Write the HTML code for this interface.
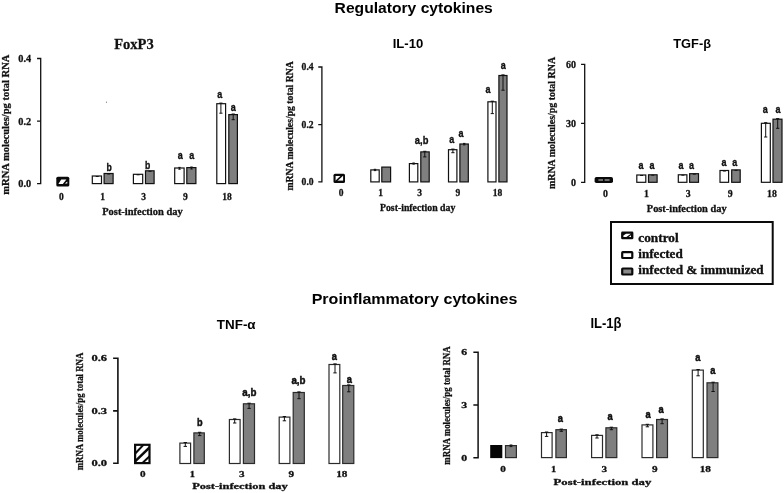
<!DOCTYPE html>
<html><head><meta charset="utf-8"><title>Cytokines</title>
<style>
html,body{margin:0;padding:0;background:#fff;}
body{width:784px;height:493px;overflow:hidden;font-family:"Liberation Sans",sans-serif;}
svg{display:block;will-change:transform;}
</style></head><body>
<svg width="784" height="493" viewBox="0 0 784 493">
<rect width="784" height="493" fill="#fff"/>
<text x="334.6" y="12.9" font-family="'Liberation Sans', sans-serif" font-size="15.2" font-weight="bold" text-anchor="start" fill="#000" textLength="158.2" lengthAdjust="spacingAndGlyphs">Regulatory cytokines</text>
<text x="311.7" y="303.5" font-family="'Liberation Sans', sans-serif" font-size="15.2" font-weight="bold" text-anchor="start" fill="#000" textLength="205.7" lengthAdjust="spacingAndGlyphs">Proinflammatory cytokines</text>
<text x="114.2" y="49.0" font-family="'Liberation Serif', serif" font-size="15" font-weight="bold" text-anchor="start" fill="#111" textLength="39.6" lengthAdjust="spacingAndGlyphs" stroke="#111" stroke-width="0.28">FoxP3</text>
<path d="M40.7 58.5V183.6M37.7 58.5H40.7M37.7 121.2H40.7M37.7 183.6H40.7" stroke="#111" stroke-width="1.3" fill="none" stroke-linecap="square"/>
<text x="31.2" y="61.8" font-family="'Liberation Serif', serif" font-size="10.3" font-weight="bold" text-anchor="end" fill="#111" stroke="#111" stroke-width="0.28">0.4</text>
<text x="31.2" y="124.5" font-family="'Liberation Serif', serif" font-size="10.3" font-weight="bold" text-anchor="end" fill="#111" stroke="#111" stroke-width="0.28">0.2</text>
<text x="31.2" y="186.9" font-family="'Liberation Serif', serif" font-size="10.3" font-weight="bold" text-anchor="end" fill="#111" stroke="#111" stroke-width="0.28">0.0</text>
<text transform="translate(9.3,194.7) rotate(-90)" x="0" y="0" font-family="'Liberation Serif', serif" font-size="10.8" font-weight="bold" fill="#111" stroke="#111" stroke-width="0.28" textLength="140.1" lengthAdjust="spacingAndGlyphs">mRNA molecules/pg total RNA</text>
<rect x="56.3" y="176.7" width="13" height="9.9" rx="1.6" fill="#0a0a0a"/>
<path d="M58.4 184.0L61.2 179.5H66.4L62.8 184.0ZM64.9 183.6L67.3 181.4V183.6Z" fill="#fff"/>
<rect x="92.30" y="176.00" width="9.20" height="7.60" fill="#fff" stroke="#111" stroke-width="1.2"/>
<rect x="104.10" y="173.50" width="9.00" height="10.10" fill="#7f7f7f" stroke="#111" stroke-width="1.2"/>
<rect x="133.40" y="174.30" width="9.30" height="9.30" fill="#fff" stroke="#111" stroke-width="1.2"/>
<rect x="145.50" y="170.80" width="8.60" height="12.80" fill="#7f7f7f" stroke="#111" stroke-width="1.2"/>
<rect x="174.70" y="168.00" width="9.40" height="15.60" fill="#fff" stroke="#111" stroke-width="1.2"/>
<rect x="186.80" y="167.60" width="9.10" height="16.00" fill="#7f7f7f" stroke="#111" stroke-width="1.2"/>
<rect x="216.80" y="103.70" width="8.80" height="79.90" fill="#fff" stroke="#111" stroke-width="1.2"/>
<rect x="228.80" y="114.60" width="8.60" height="69.00" fill="#7f7f7f" stroke="#111" stroke-width="1.2"/>
<path d="M220.9 103.1V113.2M219.3 103.1H222.5M219.3 113.2H222.5" stroke="#111" stroke-width="1.0" fill="none"/>
<path d="M233.2 114.0V119.7M231.6 114.0H234.79999999999998M231.6 119.7H234.79999999999998" stroke="#111" stroke-width="1.0" fill="none"/>
<path d="M179.5 167.4V169.2M178.3 167.4H180.7M178.3 169.2H180.7" stroke="#111" stroke-width="1.0" fill="none"/>
<path d="M191.5 167.0V169.0M190.3 167.0H192.7M190.3 169.0H192.7" stroke="#111" stroke-width="1.0" fill="none"/>
<path d="M95.7 176.5H98.7" stroke="#111" stroke-width="1.0" fill="none"/>
<path d="M107.2 174.0H110.2" stroke="#111" stroke-width="1.0" fill="none"/>
<path d="M136.6 174.8H139.6" stroke="#111" stroke-width="1.0" fill="none"/>
<path d="M148.5 171.3H151.5" stroke="#111" stroke-width="1.0" fill="none"/>
<text x="109.1" y="171.0" font-family="'Liberation Sans', sans-serif" font-size="10.6" font-weight="bold" text-anchor="middle" fill="#111" stroke="#111" stroke-width="0.35" textLength="5.3" lengthAdjust="spacingAndGlyphs">b</text>
<text x="147.6" y="168.8" font-family="'Liberation Sans', sans-serif" font-size="10.6" font-weight="bold" text-anchor="middle" fill="#111" stroke="#111" stroke-width="0.35" textLength="5.3" lengthAdjust="spacingAndGlyphs">b</text>
<text x="180.3" y="159.4" font-family="'Liberation Sans', sans-serif" font-size="10.9" font-weight="bold" text-anchor="middle" fill="#111" stroke="#111" stroke-width="0.35" textLength="5.0" lengthAdjust="spacingAndGlyphs">a</text>
<text x="191.8" y="159.4" font-family="'Liberation Sans', sans-serif" font-size="10.9" font-weight="bold" text-anchor="middle" fill="#111" stroke="#111" stroke-width="0.35" textLength="5.0" lengthAdjust="spacingAndGlyphs">a</text>
<text x="219.7" y="98.1" font-family="'Liberation Sans', sans-serif" font-size="10.9" font-weight="bold" text-anchor="middle" fill="#111" stroke="#111" stroke-width="0.35" textLength="5.0" lengthAdjust="spacingAndGlyphs">a</text>
<text x="233.2" y="111.0" font-family="'Liberation Sans', sans-serif" font-size="10.9" font-weight="bold" text-anchor="middle" fill="#111" stroke="#111" stroke-width="0.35" textLength="5.0" lengthAdjust="spacingAndGlyphs">a</text>
<text x="61.3" y="199.6" font-family="'Liberation Serif', serif" font-size="9.5" font-weight="bold" text-anchor="middle" fill="#111" stroke="#111" stroke-width="0.28">0</text>
<text x="102.5" y="199.6" font-family="'Liberation Serif', serif" font-size="9.5" font-weight="bold" text-anchor="middle" fill="#111" stroke="#111" stroke-width="0.28">1</text>
<text x="143.6" y="199.6" font-family="'Liberation Serif', serif" font-size="9.5" font-weight="bold" text-anchor="middle" fill="#111" stroke="#111" stroke-width="0.28">3</text>
<text x="185.3" y="199.6" font-family="'Liberation Serif', serif" font-size="9.5" font-weight="bold" text-anchor="middle" fill="#111" stroke="#111" stroke-width="0.28">9</text>
<text x="227.0" y="199.6" font-family="'Liberation Serif', serif" font-size="9.5" font-weight="bold" text-anchor="middle" fill="#111" stroke="#111" stroke-width="0.28">18</text>
<text x="102.2" y="214.7" font-family="'Liberation Serif', serif" font-size="10.3" font-weight="bold" text-anchor="start" fill="#111" textLength="80.5" lengthAdjust="spacingAndGlyphs" stroke="#111" stroke-width="0.28">Post-infection day</text>
<circle cx="106.5" cy="102.2" r="0.6" fill="#777"/>
<text x="392.7" y="47.8" font-family="'Liberation Sans', sans-serif" font-size="13.4" font-weight="bold" text-anchor="start" fill="#000" textLength="30.6" lengthAdjust="spacingAndGlyphs">IL-10</text>
<path d="M321.9 67.0V181.9M318.9 67.0H321.9M318.9 124.6H321.9M318.9 181.9H321.9" stroke="#111" stroke-width="1.3" fill="none" stroke-linecap="square"/>
<text x="313.6" y="70.2" font-family="'Liberation Serif', serif" font-size="9.6" font-weight="bold" text-anchor="end" fill="#111" stroke="#111" stroke-width="0.28">0.4</text>
<text x="313.6" y="127.8" font-family="'Liberation Serif', serif" font-size="9.6" font-weight="bold" text-anchor="end" fill="#111" stroke="#111" stroke-width="0.28">0.2</text>
<text x="313.6" y="185.0" font-family="'Liberation Serif', serif" font-size="9.6" font-weight="bold" text-anchor="end" fill="#111" stroke="#111" stroke-width="0.28">0.0</text>
<text transform="translate(293.0,190.6) rotate(-90)" x="0" y="0" font-family="'Liberation Serif', serif" font-size="10.0" font-weight="bold" fill="#111" stroke="#111" stroke-width="0.28" textLength="129.3" lengthAdjust="spacingAndGlyphs">mRNA molecules/pg total RNA</text>
<rect x="333.5" y="173.7" width="11.5" height="9.3" rx="1.5" fill="#0a0a0a"/>
<rect x="335.6" y="176.0" width="7.5" height="4.6" fill="#fff"/>
<path d="M336.2 181.0L342.0 175.6" stroke="#0a0a0a" stroke-width="1.7"/>
<rect x="370.80" y="169.90" width="8.40" height="12.00" fill="#fff" stroke="#111" stroke-width="1.2"/>
<rect x="381.80" y="167.10" width="8.80" height="14.80" fill="#7f7f7f" stroke="#111" stroke-width="1.2"/>
<rect x="409.40" y="163.60" width="8.40" height="18.30" fill="#fff" stroke="#111" stroke-width="1.2"/>
<rect x="420.80" y="151.90" width="8.40" height="30.00" fill="#7f7f7f" stroke="#111" stroke-width="1.2"/>
<rect x="448.50" y="149.70" width="8.40" height="32.20" fill="#fff" stroke="#111" stroke-width="1.2"/>
<rect x="459.90" y="144.00" width="8.40" height="37.90" fill="#7f7f7f" stroke="#111" stroke-width="1.2"/>
<rect x="487.90" y="101.80" width="8.10" height="80.10" fill="#fff" stroke="#111" stroke-width="1.2"/>
<rect x="498.90" y="75.50" width="8.10" height="106.40" fill="#7f7f7f" stroke="#111" stroke-width="1.2"/>
<path d="M424.8 151.3V156.9M423.2 151.3H426.40000000000003M423.2 156.9H426.40000000000003" stroke="#111" stroke-width="1.0" fill="none"/>
<path d="M452.9 149.1V152.7M451.29999999999995 149.1H454.5M451.29999999999995 152.7H454.5" stroke="#111" stroke-width="1.0" fill="none"/>
<path d="M492.3 101.2V113.6M490.7 101.2H493.90000000000003M490.7 113.6H493.90000000000003" stroke="#111" stroke-width="1.0" fill="none"/>
<path d="M503.0 74.9V90.2M501.4 74.9H504.6M501.4 90.2H504.6" stroke="#111" stroke-width="1.0" fill="none"/>
<path d="M375.0 169.3V170.6M373.8 169.3H376.2M373.8 170.6H376.2" stroke="#111" stroke-width="1.0" fill="none"/>
<path d="M413.6 163.0V164.1M412.40000000000003 163.0H414.8M412.40000000000003 164.1H414.8" stroke="#111" stroke-width="1.0" fill="none"/>
<path d="M464.2 143.4V144.9M463.0 143.4H465.4M463.0 144.9H465.4" stroke="#111" stroke-width="1.0" fill="none"/>
<text x="421.6" y="143.5" font-family="'Liberation Sans', sans-serif" font-size="10.8" font-weight="bold" text-anchor="middle" fill="#111" stroke="#111" stroke-width="0.35" textLength="13.5" lengthAdjust="spacingAndGlyphs">a,b</text>
<text x="451.8" y="143.4" font-family="'Liberation Sans', sans-serif" font-size="10.9" font-weight="bold" text-anchor="middle" fill="#111" stroke="#111" stroke-width="0.35" textLength="5.0" lengthAdjust="spacingAndGlyphs">a</text>
<text x="461.0" y="137.1" font-family="'Liberation Sans', sans-serif" font-size="10.9" font-weight="bold" text-anchor="middle" fill="#111" stroke="#111" stroke-width="0.35" textLength="5.0" lengthAdjust="spacingAndGlyphs">a</text>
<text x="488.0" y="92.6" font-family="'Liberation Sans', sans-serif" font-size="10.9" font-weight="bold" text-anchor="middle" fill="#111" stroke="#111" stroke-width="0.35" textLength="5.0" lengthAdjust="spacingAndGlyphs">a</text>
<text x="503.3" y="68.6" font-family="'Liberation Sans', sans-serif" font-size="10.9" font-weight="bold" text-anchor="middle" fill="#111" stroke="#111" stroke-width="0.35" textLength="5.0" lengthAdjust="spacingAndGlyphs">a</text>
<text x="341.0" y="196.0" font-family="'Liberation Serif', serif" font-size="9.5" font-weight="bold" text-anchor="middle" fill="#111" stroke="#111" stroke-width="0.28">0</text>
<text x="380.5" y="196.0" font-family="'Liberation Serif', serif" font-size="9.5" font-weight="bold" text-anchor="middle" fill="#111" stroke="#111" stroke-width="0.28">1</text>
<text x="419.5" y="196.0" font-family="'Liberation Serif', serif" font-size="9.5" font-weight="bold" text-anchor="middle" fill="#111" stroke="#111" stroke-width="0.28">3</text>
<text x="457.9" y="196.0" font-family="'Liberation Serif', serif" font-size="9.5" font-weight="bold" text-anchor="middle" fill="#111" stroke="#111" stroke-width="0.28">9</text>
<text x="497.6" y="196.0" font-family="'Liberation Serif', serif" font-size="9.5" font-weight="bold" text-anchor="middle" fill="#111" stroke="#111" stroke-width="0.28">18</text>
<text x="380.0" y="210.5" font-family="'Liberation Serif', serif" font-size="9.4" font-weight="bold" text-anchor="start" fill="#111" textLength="75.3" lengthAdjust="spacingAndGlyphs" stroke="#111" stroke-width="0.28">Post-infection day</text>
<text x="673.3" y="47.7" font-family="'Liberation Sans', sans-serif" font-size="12.4" font-weight="bold" text-anchor="start" fill="#000" textLength="37.7" lengthAdjust="spacingAndGlyphs">TGF-β</text>
<path d="M584.7 64.4V182.3M581.7 64.4H584.7M581.7 123.4H584.7M581.7 182.3H584.7" stroke="#111" stroke-width="1.3" fill="none" stroke-linecap="square"/>
<text x="576.0" y="67.7" font-family="'Liberation Serif', serif" font-size="10.0" font-weight="bold" text-anchor="end" fill="#111" stroke="#111" stroke-width="0.28">60</text>
<text x="576.0" y="126.7" font-family="'Liberation Serif', serif" font-size="10.0" font-weight="bold" text-anchor="end" fill="#111" stroke="#111" stroke-width="0.28">30</text>
<text x="576.0" y="185.60000000000002" font-family="'Liberation Serif', serif" font-size="10.0" font-weight="bold" text-anchor="end" fill="#111" stroke="#111" stroke-width="0.28">0</text>
<text transform="translate(555.2,189.0) rotate(-90)" x="0" y="0" font-family="'Liberation Serif', serif" font-size="9.9" font-weight="bold" fill="#111" stroke="#111" stroke-width="0.28" textLength="132.1" lengthAdjust="spacingAndGlyphs">mRNA molecules/pg total RNA</text>
<rect x="594.6" y="177.0" width="18.4" height="6.0" rx="1.8" fill="#0a0a0a"/>
<path d="M598.4 180.0H603M604.6 180.0H609.6" stroke="#8c8c8c" stroke-width="1.3"/>
<rect x="636.80" y="175.00" width="9.00" height="7.30" fill="#fff" stroke="#111" stroke-width="1.2"/>
<rect x="648.50" y="174.80" width="8.60" height="7.50" fill="#7f7f7f" stroke="#111" stroke-width="1.2"/>
<rect x="678.30" y="174.80" width="8.60" height="7.50" fill="#fff" stroke="#111" stroke-width="1.2"/>
<rect x="689.60" y="173.70" width="8.90" height="8.60" fill="#7f7f7f" stroke="#111" stroke-width="1.2"/>
<rect x="720.00" y="170.50" width="8.60" height="11.80" fill="#fff" stroke="#111" stroke-width="1.2"/>
<rect x="731.70" y="169.90" width="8.50" height="12.40" fill="#7f7f7f" stroke="#111" stroke-width="1.2"/>
<rect x="761.40" y="123.30" width="8.90" height="59.00" fill="#fff" stroke="#111" stroke-width="1.2"/>
<rect x="773.00" y="119.20" width="9.00" height="63.10" fill="#7f7f7f" stroke="#111" stroke-width="1.2"/>
<path d="M765.7 122.7V137.0M764.1 122.7H767.3000000000001M764.1 137.0H767.3000000000001" stroke="#111" stroke-width="1.0" fill="none"/>
<path d="M777.7 118.6V128.3M776.1 118.6H779.3000000000001M776.1 128.3H779.3000000000001" stroke="#111" stroke-width="1.0" fill="none"/>
<path d="M640.1 175.5H643.1" stroke="#111" stroke-width="1.0" fill="none"/>
<path d="M651.3 175.2H654.3" stroke="#111" stroke-width="1.0" fill="none"/>
<path d="M681.4 175.2H684.4" stroke="#111" stroke-width="1.0" fill="none"/>
<path d="M692.8 174.2H695.8" stroke="#111" stroke-width="1.0" fill="none"/>
<path d="M722.9 171.0H725.9" stroke="#111" stroke-width="1.0" fill="none"/>
<path d="M734.5 170.4H737.5" stroke="#111" stroke-width="1.0" fill="none"/>
<text x="641.1" y="168.9" font-family="'Liberation Sans', sans-serif" font-size="10.9" font-weight="bold" text-anchor="middle" fill="#111" stroke="#111" stroke-width="0.35" textLength="5.0" lengthAdjust="spacingAndGlyphs">a</text>
<text x="651.9" y="168.9" font-family="'Liberation Sans', sans-serif" font-size="10.9" font-weight="bold" text-anchor="middle" fill="#111" stroke="#111" stroke-width="0.35" textLength="5.0" lengthAdjust="spacingAndGlyphs">a</text>
<text x="681.0" y="169.0" font-family="'Liberation Sans', sans-serif" font-size="10.9" font-weight="bold" text-anchor="middle" fill="#111" stroke="#111" stroke-width="0.35" textLength="5.0" lengthAdjust="spacingAndGlyphs">a</text>
<text x="691.6" y="169.0" font-family="'Liberation Sans', sans-serif" font-size="10.9" font-weight="bold" text-anchor="middle" fill="#111" stroke="#111" stroke-width="0.35" textLength="5.0" lengthAdjust="spacingAndGlyphs">a</text>
<text x="724.0" y="165.6" font-family="'Liberation Sans', sans-serif" font-size="10.9" font-weight="bold" text-anchor="middle" fill="#111" stroke="#111" stroke-width="0.35" textLength="5.0" lengthAdjust="spacingAndGlyphs">a</text>
<text x="734.8" y="165.6" font-family="'Liberation Sans', sans-serif" font-size="10.9" font-weight="bold" text-anchor="middle" fill="#111" stroke="#111" stroke-width="0.35" textLength="5.0" lengthAdjust="spacingAndGlyphs">a</text>
<text x="765.3" y="112.6" font-family="'Liberation Sans', sans-serif" font-size="10.9" font-weight="bold" text-anchor="middle" fill="#111" stroke="#111" stroke-width="0.35" textLength="5.0" lengthAdjust="spacingAndGlyphs">a</text>
<text x="778.0" y="112.6" font-family="'Liberation Sans', sans-serif" font-size="10.9" font-weight="bold" text-anchor="middle" fill="#111" stroke="#111" stroke-width="0.35" textLength="5.0" lengthAdjust="spacingAndGlyphs">a</text>
<text x="605.4" y="197.3" font-family="'Liberation Serif', serif" font-size="9.8" font-weight="bold" text-anchor="middle" fill="#111" stroke="#111" stroke-width="0.28">0</text>
<text x="646.4" y="197.3" font-family="'Liberation Serif', serif" font-size="9.8" font-weight="bold" text-anchor="middle" fill="#111" stroke="#111" stroke-width="0.28">1</text>
<text x="688.2" y="197.3" font-family="'Liberation Serif', serif" font-size="9.8" font-weight="bold" text-anchor="middle" fill="#111" stroke="#111" stroke-width="0.28">3</text>
<text x="730.3" y="197.3" font-family="'Liberation Serif', serif" font-size="9.8" font-weight="bold" text-anchor="middle" fill="#111" stroke="#111" stroke-width="0.28">9</text>
<text x="772.0" y="197.3" font-family="'Liberation Serif', serif" font-size="9.8" font-weight="bold" text-anchor="middle" fill="#111" stroke="#111" stroke-width="0.28">18</text>
<text x="646.8" y="211.8" font-family="'Liberation Serif', serif" font-size="10.0" font-weight="bold" text-anchor="start" fill="#111" textLength="79.8" lengthAdjust="spacingAndGlyphs" stroke="#111" stroke-width="0.28">Post-infection day</text>
<rect x="611" y="222" width="161.7" height="62" fill="#fff" stroke="#0a0a0a" stroke-width="2"/>
<rect x="621.1" y="231.6" width="12.3" height="7.7" rx="1.3" fill="#0a0a0a"/>
<path d="M623.4 237.0V235.4L626.0 233.8H630.9L626.4 237.0Z M628.6 237.0L631.0 235.2V237.0Z" fill="#fff"/>
<rect x="622.2" y="252.2" width="10.1" height="5.8" rx="0.6" fill="#fff" stroke="#0a0a0a" stroke-width="2.2"/>
<rect x="622.2" y="268.5" width="10.1" height="6.0" rx="0.6" fill="#8a8a8a" stroke="#0a0a0a" stroke-width="2.2"/>
<text x="638.3" y="241.9" font-family="'Liberation Serif', serif" font-size="13.4" font-weight="bold" text-anchor="start" fill="#111" textLength="40.4" lengthAdjust="spacingAndGlyphs" stroke="#111" stroke-width="0.35">control</text>
<text x="638.3" y="257.6" font-family="'Liberation Serif', serif" font-size="13.4" font-weight="bold" text-anchor="start" fill="#111" textLength="44.4" lengthAdjust="spacingAndGlyphs" stroke="#111" stroke-width="0.35">infected</text>
<text x="638.3" y="273.7" font-family="'Liberation Serif', serif" font-size="13.4" font-weight="bold" text-anchor="start" fill="#111" textLength="125.4" lengthAdjust="spacingAndGlyphs" stroke="#111" stroke-width="0.35">infected &amp; immunized</text>
<text x="216.8" y="329.2" font-family="'Liberation Sans', sans-serif" font-size="13.6" font-weight="bold" text-anchor="start" fill="#000" textLength="38.8" lengthAdjust="spacingAndGlyphs">TNF-α</text>
<path d="M117.9 358.2V463.2M113.9 358.2H117.9M113.9 410.9H117.9M113.9 463.2H117.9" stroke="#111" stroke-width="1.6" fill="none" stroke-linecap="square"/>
<text x="91.4" y="361.3" font-family="'Liberation Serif', serif" font-size="8.4" font-weight="bold" text-anchor="start" fill="#111" textLength="15.6" lengthAdjust="spacingAndGlyphs" stroke="#111" stroke-width="0.28">0.6</text>
<text x="91.4" y="414.0" font-family="'Liberation Serif', serif" font-size="8.4" font-weight="bold" text-anchor="start" fill="#111" textLength="15.6" lengthAdjust="spacingAndGlyphs" stroke="#111" stroke-width="0.28">0.3</text>
<text x="91.4" y="466.3" font-family="'Liberation Serif', serif" font-size="8.4" font-weight="bold" text-anchor="start" fill="#111" textLength="15.6" lengthAdjust="spacingAndGlyphs" stroke="#111" stroke-width="0.28">0.0</text>
<text transform="translate(82.6,470.3) rotate(-90)" x="0" y="0" font-family="'Liberation Serif', serif" font-size="10.6" font-weight="bold" fill="#111" stroke="#111" stroke-width="0.28" textLength="117.69999999999999" lengthAdjust="spacingAndGlyphs">mRNA molecules/pg total RNA</text>
<defs><clipPath id="c1"><rect x="135.2" y="445" width="14.2" height="18"/></clipPath></defs>
<rect x="135.1" y="444.8" width="14.4" height="18.3" fill="#fff" stroke="#0a0a0a" stroke-width="2.2"/>
<g clip-path="url(#c1)" stroke="#0a0a0a" fill="none"><path d="M134 454.8L144.7 443.5" stroke-width="2.0"/><path d="M134 462.5L151 446" stroke-width="2.4"/><path d="M141 464.3L151 455" stroke-width="2.0"/></g>
<rect x="179.90" y="443.10" width="10.70" height="20.40" fill="#fff" stroke="#2b2b2b" stroke-width="1.2"/>
<rect x="193.90" y="432.90" width="10.40" height="30.60" fill="#7f7f7f" stroke="#2b2b2b" stroke-width="1.2"/>
<rect x="229.40" y="419.50" width="10.70" height="44.00" fill="#fff" stroke="#2b2b2b" stroke-width="1.2"/>
<rect x="243.40" y="403.80" width="11.10" height="59.70" fill="#7f7f7f" stroke="#2b2b2b" stroke-width="1.2"/>
<rect x="279.20" y="417.10" width="10.70" height="46.40" fill="#fff" stroke="#2b2b2b" stroke-width="1.2"/>
<rect x="293.20" y="392.50" width="11.10" height="71.00" fill="#7f7f7f" stroke="#2b2b2b" stroke-width="1.2"/>
<rect x="329.00" y="364.50" width="10.80" height="99.00" fill="#fff" stroke="#2b2b2b" stroke-width="1.2"/>
<rect x="342.70" y="385.50" width="11.10" height="78.00" fill="#7f7f7f" stroke="#2b2b2b" stroke-width="1.2"/>
<path d="M185.3 442.5V446.4M183.60000000000002 442.5H187.0M183.60000000000002 446.4H187.0" stroke="#111" stroke-width="1.0" fill="none"/>
<path d="M199.7 432.3V435.6M198.0 432.3H201.39999999999998M198.0 435.6H201.39999999999998" stroke="#111" stroke-width="1.0" fill="none"/>
<path d="M234.7 418.9V423.0M233.0 418.9H236.39999999999998M233.0 423.0H236.39999999999998" stroke="#111" stroke-width="1.0" fill="none"/>
<path d="M249.1 403.2V408.4M247.4 403.2H250.79999999999998M247.4 408.4H250.79999999999998" stroke="#111" stroke-width="1.0" fill="none"/>
<path d="M284.4 416.5V420.8M282.7 416.5H286.09999999999997M282.7 420.8H286.09999999999997" stroke="#111" stroke-width="1.0" fill="none"/>
<path d="M299.0 391.9V398.7M297.3 391.9H300.7M297.3 398.7H300.7" stroke="#111" stroke-width="1.0" fill="none"/>
<path d="M335.0 363.9V372.9M333.3 363.9H336.7M333.3 372.9H336.7" stroke="#111" stroke-width="1.0" fill="none"/>
<path d="M348.8 384.9V391.8M347.1 384.9H350.5M347.1 391.8H350.5" stroke="#111" stroke-width="1.0" fill="none"/>
<text x="199.7" y="425.6" font-family="'Liberation Sans', sans-serif" font-size="10.0" font-weight="bold" text-anchor="middle" fill="#111" stroke="#111" stroke-width="0.45" textLength="5.6" lengthAdjust="spacingAndGlyphs">b</text>
<text x="249.3" y="396.2" font-family="'Liberation Sans', sans-serif" font-size="10.0" font-weight="bold" text-anchor="middle" fill="#111" stroke="#111" stroke-width="0.45" textLength="14.1" lengthAdjust="spacingAndGlyphs">a,b</text>
<text x="298.5" y="384.0" font-family="'Liberation Sans', sans-serif" font-size="10.0" font-weight="bold" text-anchor="middle" fill="#111" stroke="#111" stroke-width="0.45" textLength="14.1" lengthAdjust="spacingAndGlyphs">a,b</text>
<text x="334.4" y="359.8" font-family="'Liberation Sans', sans-serif" font-size="10.0" font-weight="bold" text-anchor="middle" fill="#111" stroke="#111" stroke-width="0.45" textLength="5.2" lengthAdjust="spacingAndGlyphs">a</text>
<text x="349.3" y="382.8" font-family="'Liberation Sans', sans-serif" font-size="10.0" font-weight="bold" text-anchor="middle" fill="#111" stroke="#111" stroke-width="0.45" textLength="5.2" lengthAdjust="spacingAndGlyphs">a</text>
<text x="140.0" y="476.7" font-family="'Liberation Serif', serif" font-size="8.5" font-weight="bold" text-anchor="start" fill="#111" textLength="5.6" lengthAdjust="spacingAndGlyphs" stroke="#111" stroke-width="0.28">0</text>
<text x="189.70000000000002" y="476.7" font-family="'Liberation Serif', serif" font-size="8.5" font-weight="bold" text-anchor="start" fill="#111" textLength="5.2" lengthAdjust="spacingAndGlyphs" stroke="#111" stroke-width="0.28">1</text>
<text x="239.0" y="476.7" font-family="'Liberation Serif', serif" font-size="8.5" font-weight="bold" text-anchor="start" fill="#111" textLength="5.6" lengthAdjust="spacingAndGlyphs" stroke="#111" stroke-width="0.28">3</text>
<text x="288.4" y="476.7" font-family="'Liberation Serif', serif" font-size="8.5" font-weight="bold" text-anchor="start" fill="#111" textLength="5.6" lengthAdjust="spacingAndGlyphs" stroke="#111" stroke-width="0.28">9</text>
<text x="336.2" y="476.7" font-family="'Liberation Serif', serif" font-size="8.5" font-weight="bold" text-anchor="start" fill="#111" textLength="11.2" lengthAdjust="spacingAndGlyphs" stroke="#111" stroke-width="0.28">18</text>
<text x="192.2" y="489.3" font-family="'Liberation Serif', serif" font-size="8.9" font-weight="bold" text-anchor="start" fill="#111" textLength="95.6" lengthAdjust="spacingAndGlyphs" stroke="#111" stroke-width="0.28">Post-infection day</text>
<text x="590.4" y="328.1" font-family="'Liberation Sans', sans-serif" font-size="13.8" font-weight="bold" text-anchor="start" fill="#000" textLength="31.1" lengthAdjust="spacingAndGlyphs">IL-1β</text>
<path d="M478.1 352.2V457.7M474.1 352.2H478.1M474.1 405.0H478.1M474.1 457.7H478.1" stroke="#111" stroke-width="1.5" fill="none" stroke-linecap="square"/>
<text x="461.3" y="355.1" font-family="'Liberation Serif', serif" font-size="8.6" font-weight="bold" text-anchor="start" fill="#111" textLength="5.9" lengthAdjust="spacingAndGlyphs" stroke="#111" stroke-width="0.28">6</text>
<text x="461.3" y="408.1" font-family="'Liberation Serif', serif" font-size="8.6" font-weight="bold" text-anchor="start" fill="#111" textLength="5.9" lengthAdjust="spacingAndGlyphs" stroke="#111" stroke-width="0.28">3</text>
<text x="461.3" y="460.8" font-family="'Liberation Serif', serif" font-size="8.6" font-weight="bold" text-anchor="start" fill="#111" textLength="5.9" lengthAdjust="spacingAndGlyphs" stroke="#111" stroke-width="0.28">0</text>
<text transform="translate(449.8,464.7) rotate(-90)" x="0" y="0" font-family="'Liberation Serif', serif" font-size="10.6" font-weight="bold" fill="#111" stroke="#111" stroke-width="0.28" textLength="118.39999999999998" lengthAdjust="spacingAndGlyphs">mRNA molecules/pg total RNA</text>
<rect x="490.2" y="445.0" width="12.1" height="13.1" fill="#050505"/>
<rect x="505.50" y="445.60" width="10.90" height="12.00" fill="#7f7f7f" stroke="#2b2b2b" stroke-width="1.2"/>
<rect x="541.50" y="432.60" width="10.60" height="25.00" fill="#fff" stroke="#2b2b2b" stroke-width="1.2"/>
<rect x="555.90" y="429.70" width="10.50" height="27.90" fill="#7f7f7f" stroke="#2b2b2b" stroke-width="1.2"/>
<rect x="591.60" y="435.40" width="10.90" height="22.20" fill="#fff" stroke="#2b2b2b" stroke-width="1.2"/>
<rect x="605.90" y="427.80" width="10.90" height="29.80" fill="#7f7f7f" stroke="#2b2b2b" stroke-width="1.2"/>
<rect x="642.00" y="424.90" width="10.90" height="32.70" fill="#fff" stroke="#2b2b2b" stroke-width="1.2"/>
<rect x="656.60" y="419.50" width="10.90" height="38.10" fill="#7f7f7f" stroke="#2b2b2b" stroke-width="1.2"/>
<rect x="692.30" y="370.10" width="11.00" height="87.50" fill="#fff" stroke="#2b2b2b" stroke-width="1.2"/>
<rect x="707.00" y="382.80" width="10.90" height="74.80" fill="#7f7f7f" stroke="#2b2b2b" stroke-width="1.2"/>
<path d="M511.0 445.0V446.6M509.6 445.0H512.4M509.6 446.6H512.4" stroke="#111" stroke-width="1.0" fill="none"/>
<path d="M546.6 432.0V436.4M544.9 432.0H548.3000000000001M544.9 436.4H548.3000000000001" stroke="#111" stroke-width="1.0" fill="none"/>
<path d="M561.3 429.1V431.3M559.5999999999999 429.1H563.0M559.5999999999999 431.3H563.0" stroke="#111" stroke-width="1.0" fill="none"/>
<path d="M597.0 434.8V438.0M595.3 434.8H598.7M595.3 438.0H598.7" stroke="#111" stroke-width="1.0" fill="none"/>
<path d="M611.4 427.2V429.7M609.6999999999999 427.2H613.1M609.6999999999999 429.7H613.1" stroke="#111" stroke-width="1.0" fill="none"/>
<path d="M647.4 424.3V426.8M645.6999999999999 424.3H649.1M645.6999999999999 426.8H649.1" stroke="#111" stroke-width="1.0" fill="none"/>
<path d="M662.1 418.9V423.7M660.4 418.9H663.8000000000001M660.4 423.7H663.8000000000001" stroke="#111" stroke-width="1.0" fill="none"/>
<path d="M698.1 369.5V375.8M696.4 369.5H699.8000000000001M696.4 375.8H699.8000000000001" stroke="#111" stroke-width="1.0" fill="none"/>
<path d="M713.1 382.2V391.5M711.4 382.2H714.8000000000001M711.4 391.5H714.8000000000001" stroke="#111" stroke-width="1.0" fill="none"/>
<text x="560.4" y="421.8" font-family="'Liberation Sans', sans-serif" font-size="10.0" font-weight="bold" text-anchor="middle" fill="#111" stroke="#111" stroke-width="0.45" textLength="5.2" lengthAdjust="spacingAndGlyphs">a</text>
<text x="610.1" y="419.7" font-family="'Liberation Sans', sans-serif" font-size="10.0" font-weight="bold" text-anchor="middle" fill="#111" stroke="#111" stroke-width="0.45" textLength="5.2" lengthAdjust="spacingAndGlyphs">a</text>
<text x="648.0" y="418.4" font-family="'Liberation Sans', sans-serif" font-size="10.0" font-weight="bold" text-anchor="middle" fill="#111" stroke="#111" stroke-width="0.45" textLength="5.2" lengthAdjust="spacingAndGlyphs">a</text>
<text x="661.1" y="413.0" font-family="'Liberation Sans', sans-serif" font-size="10.0" font-weight="bold" text-anchor="middle" fill="#111" stroke="#111" stroke-width="0.45" textLength="5.2" lengthAdjust="spacingAndGlyphs">a</text>
<text x="697.8" y="361.2" font-family="'Liberation Sans', sans-serif" font-size="10.0" font-weight="bold" text-anchor="middle" fill="#111" stroke="#111" stroke-width="0.45" textLength="5.2" lengthAdjust="spacingAndGlyphs">a</text>
<text x="712.8" y="373.8" font-family="'Liberation Sans', sans-serif" font-size="10.0" font-weight="bold" text-anchor="middle" fill="#111" stroke="#111" stroke-width="0.45" textLength="5.2" lengthAdjust="spacingAndGlyphs">a</text>
<text x="500.3" y="471.8" font-family="'Liberation Serif', serif" font-size="8.5" font-weight="bold" text-anchor="start" fill="#111" textLength="5.6" lengthAdjust="spacingAndGlyphs" stroke="#111" stroke-width="0.28">0</text>
<text x="551.0" y="471.8" font-family="'Liberation Serif', serif" font-size="8.5" font-weight="bold" text-anchor="start" fill="#111" textLength="5.2" lengthAdjust="spacingAndGlyphs" stroke="#111" stroke-width="0.28">1</text>
<text x="601.5" y="471.8" font-family="'Liberation Serif', serif" font-size="8.5" font-weight="bold" text-anchor="start" fill="#111" textLength="5.6" lengthAdjust="spacingAndGlyphs" stroke="#111" stroke-width="0.28">3</text>
<text x="652.0" y="471.8" font-family="'Liberation Serif', serif" font-size="8.5" font-weight="bold" text-anchor="start" fill="#111" textLength="5.6" lengthAdjust="spacingAndGlyphs" stroke="#111" stroke-width="0.28">9</text>
<text x="699.6999999999999" y="471.8" font-family="'Liberation Serif', serif" font-size="8.5" font-weight="bold" text-anchor="start" fill="#111" textLength="11.2" lengthAdjust="spacingAndGlyphs" stroke="#111" stroke-width="0.28">18</text>
<text x="553.6" y="484.6" font-family="'Liberation Serif', serif" font-size="8.9" font-weight="bold" text-anchor="start" fill="#111" textLength="97.7" lengthAdjust="spacingAndGlyphs" stroke="#111" stroke-width="0.28">Post-infection day</text>
</svg>
</body></html>
